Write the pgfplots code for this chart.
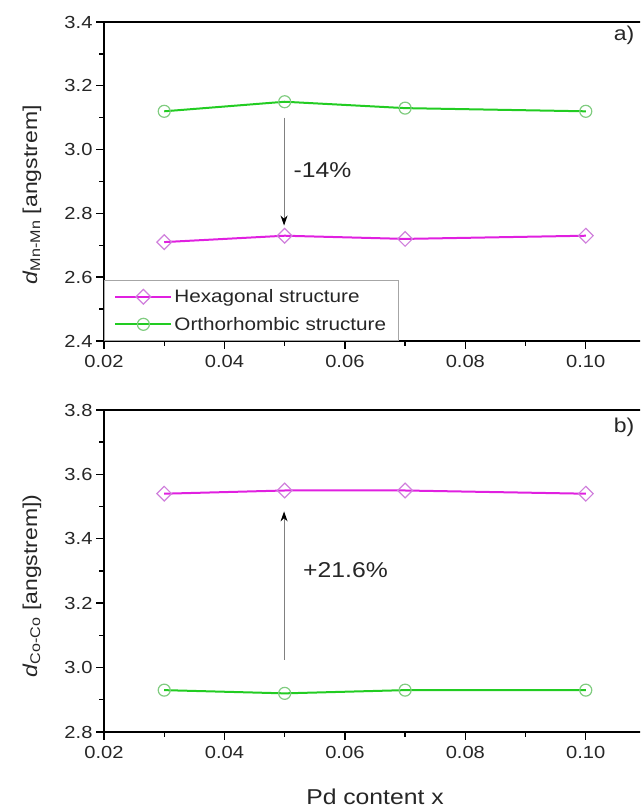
\documentclass[border=0pt]{standalone}
\usepackage{pgfplots}
\pgfplotsset{compat=1.18}
\usetikzlibrary{arrows.meta}
\usepackage{fontspec}
\setmainfont[FakeStretch=1.15]{Liberation Sans}
\definecolor{hexline}{HTML}{E020E0}
\definecolor{hexmark}{HTML}{D080DC}
\definecolor{orthline}{HTML}{22CC22}
\definecolor{orthmark}{HTML}{80CC80}

\pgfplotsset{
  panel/.style={
    scale only axis,
    width=542pt,
    xmin=0.02, xmax=0.11,
    xtick={0.02,0.04,0.06,0.08,0.10},
    minor x tick num=1,
    minor y tick num=1,
    xtick pos=bottom, ytick pos=left,
    tick align=outside,
    major tick length=8pt, minor tick length=5pt,
    axis line style={line width=1.6pt},
    every tick/.style={black, line width=1.4pt},
    /pgf/number format/assume math mode=true,
    ticklabel style={font=\fontsize{17.5}{19}\selectfont, color=black!85},
    xticklabel style={yshift=-3pt, /pgf/number format/fixed, /pgf/number format/fixed zerofill, /pgf/number format/precision=2},
    yticklabel style={/pgf/number format/fixed, /pgf/number format/fixed zerofill, /pgf/number format/precision=1},
    label style={font=\fontsize{20}{22}\selectfont, color=black!85},
  },
  hexa/.style={color=hexline, line width=2pt, mark=square, mark size=5.2pt,
    mark options={draw=hexmark, fill=white, line width=1.2pt, rotate=45}},
  ortho/.style={color=orthline, line width=2pt, mark=o, mark size=6pt,
    mark options={draw=orthmark, fill=white, line width=1.2pt}},
}

\begin{document}
\begin{tikzpicture}
\useasboundingbox (0,0) rectangle (640pt,810pt);
\begin{scope}
\clip (0,0) rectangle (640pt,810pt);

% panel a)
\begin{axis}[panel,
    at={(104pt,469pt)}, anchor=south west,
    height=319pt,
    ymin=2.4, ymax=3.4,
    ytick={2.4,2.6,2.8,3.0,3.2,3.4},
    ylabel={\textit{d}\textsubscript{Mn-Mn} [angstrem]},
    ylabel style={at={(axis description cs:-0.133,0.458)}, anchor=center},
    legend style={at={(0,0)}, anchor=south west, draw=gray!70, line width=0.8pt,
      font=\fontsize{18}{20}\selectfont, text=black!85,
      inner xsep=10pt, inner ysep=7pt, row sep=9pt, cells={anchor=west}},
    legend image code/.code={
      \draw[#1, mark repeat=2, mark phase=2] plot coordinates {(0pt,0pt) (28pt,0pt) (56pt,0pt)};
    },
]
\addplot[hexa] coordinates {(0.03,2.71) (0.05,2.73) (0.07,2.72) (0.10,2.73)};
\addlegendentry{Hexagonal structure}
\addplot[ortho] coordinates {(0.03,3.12) (0.05,3.15) (0.07,3.13) (0.10,3.12)};
\addlegendentry{Orthorhombic structure}
\draw[gray, line width=0.9pt, -{Stealth[black, length=10pt, width=7pt]}] (axis cs:0.0499,3.10) -- (axis cs:0.0499,2.762);
\node[anchor=center, font=\fontsize{21.5}{23}\selectfont, text=black!85] at (axis cs:0.0563,2.936) {-14\%};
\node[anchor=east, font=\fontsize{20}{22}\selectfont, text=black!85] at (rel axis cs:0.985,0.959) {a)};
\end{axis}

% panel b)
\begin{axis}[panel,
    at={(104pt,78pt)}, anchor=south west,
    height=322pt,
    ymin=2.8, ymax=3.8,
    ytick={2.8,3.0,3.2,3.4,3.6,3.8},
    xlabel={Pd content x},
    xlabel style={at={(axis description cs:0.5,-0.2)}, anchor=center, font=\fontsize{21.5}{23}\selectfont},
    ylabel={\textit{d}\textsubscript{Co-Co} [angstrem])},
    ylabel style={at={(axis description cs:-0.133,0.453)}, anchor=center},
]
\addplot[hexa] coordinates {(0.03,3.54) (0.05,3.55) (0.07,3.55) (0.10,3.54)};
\addplot[ortho] coordinates {(0.03,2.93) (0.05,2.92) (0.07,2.93) (0.10,2.93)};
\draw[gray, line width=0.9pt, -{Stealth[black, length=10pt, width=7pt]}] (axis cs:0.0499,3.024) -- (axis cs:0.0499,3.485);
\node[anchor=center, font=\fontsize{21.5}{23}\selectfont, text=black!85] at (axis cs:0.0601,3.303) {+21.6\%};
\node[anchor=east, font=\fontsize{20}{22}\selectfont, text=black!85] at (rel axis cs:0.985,0.947) {b)};
\end{axis}
\end{scope}
\end{tikzpicture}
\end{document}
